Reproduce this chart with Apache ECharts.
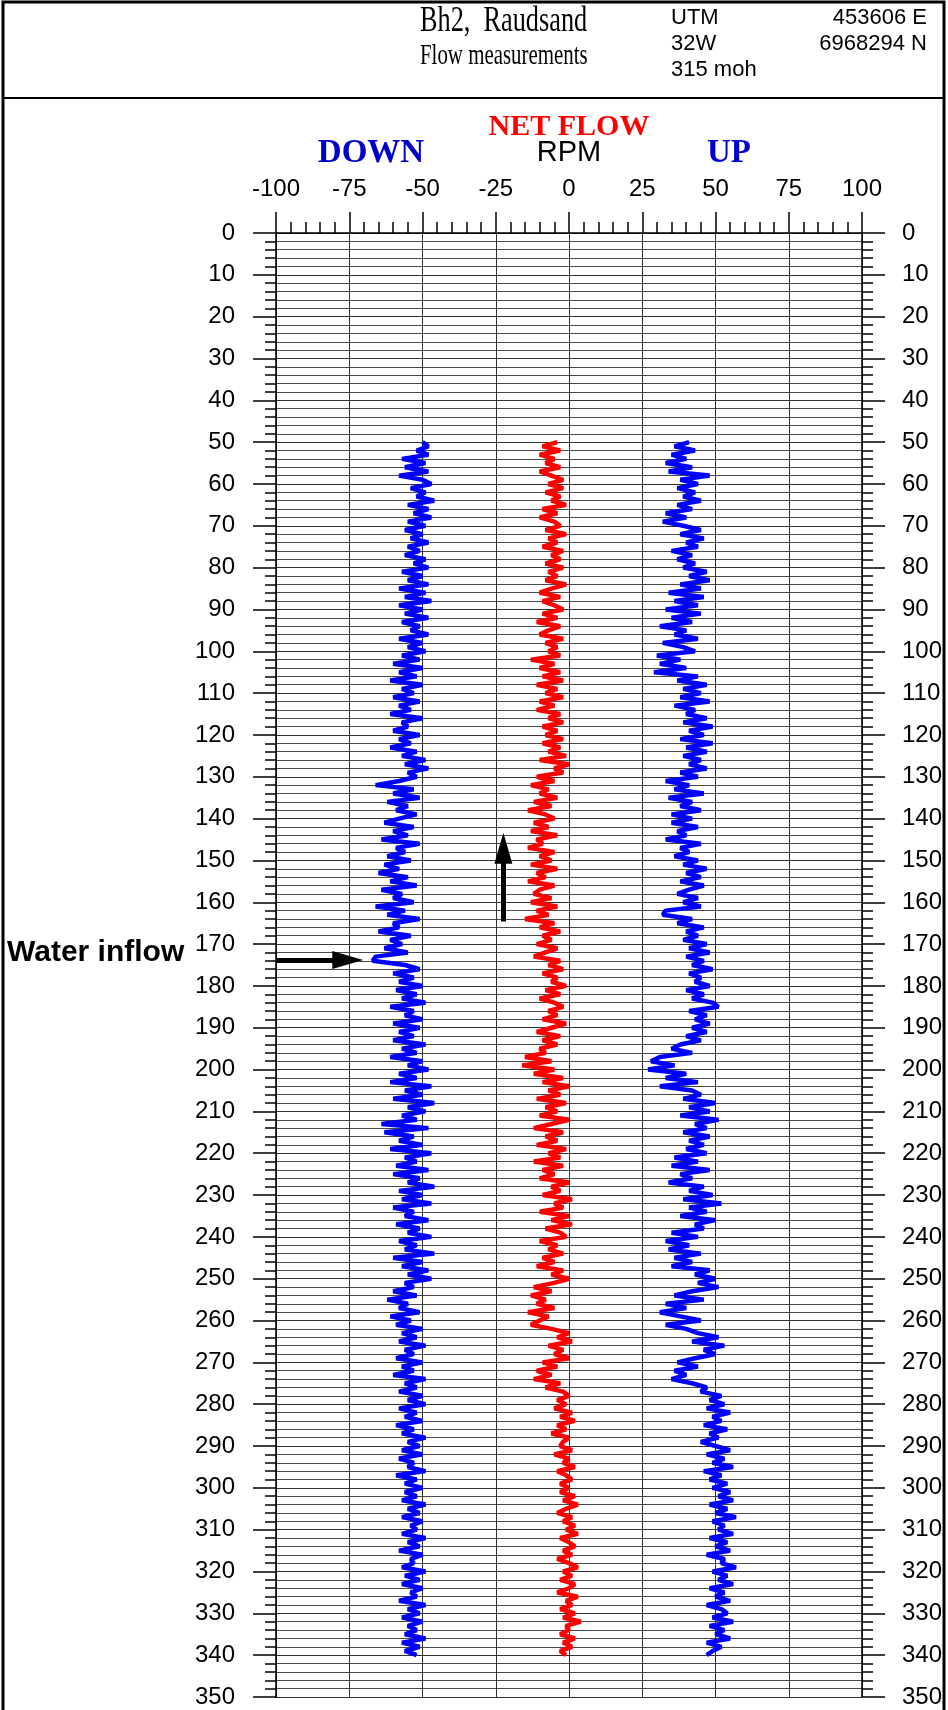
<!DOCTYPE html>
<html>
<head>
<meta charset="utf-8">
<script src="https://cdn.jsdelivr.net/npm/echarts@6/dist/echarts.min.js"></script>
<style>
html,body{margin:0;padding:0;background:#fff;}
#chart{width:948px;height:1710px;}
</style>
</head>
<body>
<div id="chart"></div>
<script>
// ---- data ----
const depthStart = 50;   // m, first sample
const depthStep = 1;     // m between samples

const down = [
 -50,-48,-52,-48,-57,-49,-56,-48,-58,-50,
 -47,-54,-49,-52,-46,-55,-48,-53,-47,-55,
 -49,-56,-50,-54,-48,-55,-51,-56,-49,-53,
 -48,-57,-50,-55,-48,-58,-49,-56,-47,-58,
 -50,-56,-48,-57,-51,-54,-48,-58,-50,-55,
 -49,-57,-51,-60,-50,-58,-52,-61,-50,-57,
 -53,-60,-51,-58,-54,-61,-50,-57,-55,-60,
 -51,-58,-54,-61,-52,-57,-49,-56,-48,-55,
 -52,-58,-66,-53,-60,-51,-62,-55,-59,-52,
 -58,-63,-53,-60,-55,-64,-51,-59,-56,-62,
 -54,-63,-58,-65,-55,-61,-52,-64,-57,-60,
 -53,-66,-56,-62,-51,-60,-58,-65,-54,-61,
 -57,-63,-55,-66,-67,-56,-51,-60,-53,-58,
 -50,-59,-52,-57,-49,-61,-53,-56,-50,-60,
 -51,-58,-53,-60,-49,-57,-52,-61,-50,-55,
 -48,-58,-52,-61,-47,-56,-50,-60,-46,-55,
 -49,-57,-52,-64,-48,-63,-53,-58,-50,-61,
 -47,-56,-52,-59,-48,-60,-51,-55,-46,-58,
 -50,-57,-47,-60,-53,-56,-48,-59,-51,-55,
 -47,-58,-52,-56,-46,-60,-50,-57,-48,-55,
 -47,-56,-53,-60,-52,-62,-55,-58,-51,-61,
 -54,-59,-50,-57,-52,-58,-49,-56,-53,-59,
 -50,-57,-53,-60,-49,-56,-52,-58,-50,-55,
 -49,-58,-52,-56,-50,-59,-53,-57,-49,-55,
 -51,-57,-50,-58,-53,-55,-49,-59,-52,-56,
 -50,-56,-52,-57,-49,-55,-51,-57,-50,-54,
 -52,-57,-49,-55,-51,-58,-50,-54,-53,-57,
 -49,-56,-51,-57,-50,-54,-52,-58,-49,-55,
 -51,-57,-50,-55,-52,-56,-49,-57,-51,-56,
 -52
];

const netFlow = [
 -4,-9,-3,-10,-5,-8,-3,-10,-6,-2,
 -7,-2,-8,-3,-6,-1,-9,-4,-10,-5,
 -3,-8,-1,-7,-4,-9,-2,-6,-3,-8,
 -2,-7,-4,-8,-1,-6,-10,-3,-9,-5,
 -2,-9,-4,-11,-3,-7,-10,-2,-8,-4,
 -7,-3,-13,-5,-10,-3,-9,-2,-11,-4,
 -8,-2,-10,-5,-11,-3,-7,-2,-9,-4,
 -8,-2,-9,-3,-7,-1,-10,0,-5,-2,
 -11,-5,-13,-7,-10,-4,-12,-6,-14,-8,
 -5,-12,-7,-13,-4,-11,-9,-14,-5,-10,
 -6,-13,-4,-11,-8,-14,-5,-10,-12,-6,
 -13,-4,-11,-7,-15,-5,-10,-3,-9,-6,
 -11,-4,-8,-12,-3,-7,-2,-9,-4,-6,
 -1,-8,-3,-10,-5,-2,-7,-4,-9,-1,
 -6,-11,-3,-9,-4,-10,-8,-15,-6,-16,
 -5,-12,-2,-9,0,-7,-3,-11,-1,-8,
 -4,-10,0,-6,-12,-2,-8,-4,-11,-1,
 -7,-3,-12,-2,-9,-5,-10,0,-6,-3,
 -9,1,-5,-2,-10,0,-6,1,-8,-3,
 -1,-10,-4,-7,-2,-9,-5,-11,-2,-6,
 0,-5,-12,-6,-13,-8,-11,-5,-14,-7,
 -10,-13,-6,0,-4,1,-7,-2,-5,0,
 -9,-4,-11,-6,-12,-3,-8,-2,0,-4,
 -1,-5,1,-3,2,-4,-1,-6,0,-2,
 -3,1,-5,0,-2,2,-4,-1,1,-3,
 0,-3,2,-2,3,-1,-4,1,-2,2,
 -1,3,-3,0,2,-2,1,-4,0,3,
 -2,1,-3,2,0,-4,3,-1,1,-3,
 2,-2,4,-1,0,-3,2,-2,1,-3,
 -1
];

const up = [
 41,36,43,35,40,33,42,34,48,38,
 44,37,43,39,45,37,42,33,40,32,
 39,45,38,46,40,44,35,42,37,43,
 39,47,41,48,38,45,34,46,36,44,
 33,45,35,42,31,40,36,44,32,39,
 43,30,38,31,40,29,44,37,47,39,
 45,38,48,36,43,40,47,39,49,41,
 46,38,49,40,47,39,45,41,47,38,
 44,33,41,36,46,34,42,38,45,35,
 42,35,44,37,40,33,45,38,41,36,
 44,39,47,40,45,38,46,41,37,44,
 39,45,33,32,42,37,46,40,44,39,
 47,41,48,40,46,42,49,41,45,43,
 48,40,46,42,49,51,41,47,43,48,
 42,47,40,45,38,35,42,31,28,36,
 27,40,33,44,31,42,45,39,50,41,
 48,38,51,43,47,39,48,41,46,40,
 47,36,44,35,48,38,42,34,46,41,
 49,39,52,41,47,38,50,43,46,35,
 44,33,41,34,45,36,42,35,48,43,
 50,44,51,42,36,46,33,40,31,38,
 45,33,40,44,51,42,53,46,50,43,
 37,44,36,40,35,42,47,45,52,48,
 53,47,55,49,52,46,54,48,51,45,
 50,55,47,53,49,56,46,52,48,54,
 49,55,51,56,48,54,50,57,49,53,
 51,56,48,54,50,55,47,53,52,57,
 49,54,51,56,48,53,50,55,47,52,
 54,49,56,48,53,50,55,47,52,49,
 47
];

// axis
const xMin = -100, xMax = 100, xInterval = 25;
const depthMin = 0, depthMax = 350, depthInterval = 10;
// annotations (data coordinates)
const inflowArrow = { fromX: -100, toX: -75.5, depth: 173.8 };
const upArrow = { x: -22.4, fromDepth: 164.6, toDepth: 147.1 };

function pairs(vals) {
  return vals.map((v, i) => [v, depthStart + i * depthStep]);
}

const ARIAL = '"Liberation Sans", Arial, sans-serif';
const SERIF = '"Liberation Serif", "Times New Roman", serif';
const LBL = 24;

const chart = echarts.init(document.getElementById('chart'), null, { renderer: 'canvas' });

const yAxisCommon = {
  type: 'value', inverse: true, min: depthMin, max: depthMax, interval: depthInterval,
  axisLine: { show: true, onZero: false, lineStyle: { color: '#000', width: 1.5 } },
  axisTick: { show: true, inside: false, length: 23, lineStyle: { color: '#000', width: 1.5 } },
  minorTick: { show: true, splitNumber: 5, length: 11, lineStyle: { color: '#000', width: 1.5 } },
  axisLabel: { fontSize: LBL, fontFamily: ARIAL, color: '#000' }
};

const lineW = 4.5;

const option = {
  animation: false,
  backgroundColor: '#fff',
  grid: { left: 276, right: 86, top: 233, bottom: 13, containLabel: false, outerBoundsMode: 'none' },
  xAxis: [{
    type: 'value', position: 'top', min: xMin, max: xMax, interval: xInterval,
    axisLine: { show: true, onZero: false, lineStyle: { color: '#000', width: 1.5 } },
    axisTick: { show: true, inside: false, length: 21, lineStyle: { color: '#000', width: 1.5 } },
    minorTick: { show: true, splitNumber: 5, length: 11, lineStyle: { color: '#000', width: 1.5 } },
    axisLabel: { margin: 32, fontSize: LBL, fontFamily: ARIAL, color: '#000', showMinLabel: true, showMaxLabel: true },
    splitLine: { show: true, lineStyle: { color: '#333', width: 1 } }
  }],
  yAxis: [
    Object.assign({}, yAxisCommon, {
      position: 'left',
      axisLabel: Object.assign({}, yAxisCommon.axisLabel, { margin: 41 }),
      splitLine: { show: true, lineStyle: { color: '#333', width: 1 } },
      minorSplitLine: { show: true, lineStyle: { color: '#4a4a4a', width: 1 } }
    }),
    Object.assign({}, yAxisCommon, {
      position: 'right',
      axisLabel: Object.assign({}, yAxisCommon.axisLabel, { margin: 40 }),
      splitLine: { show: false }
    })
  ],
  series: [
    {
      name: 'DOWN', type: 'line', data: pairs(down), showSymbol: false, symbol: 'none',
      lineStyle: { color: '#0000ff', width: lineW }, itemStyle: { color: '#0000ff' }, z: 5
    },
    {
      name: 'NET FLOW', type: 'line', data: pairs(netFlow), showSymbol: false, symbol: 'none',
      lineStyle: { color: '#ff0000', width: lineW }, itemStyle: { color: '#ff0000' }, z: 5,
      markLine: {
        silent: true, animation: false,
        symbol: ['none', 'triangle'], symbolSize: [18, 31],
        label: { show: false },
        lineStyle: { type: 'solid', color: '#000', width: 5 },
        itemStyle: { color: '#000' },
        emphasis: { disabled: true },
        data: [
          [{ coord: [inflowArrow.fromX, inflowArrow.depth] }, { coord: [inflowArrow.toX, inflowArrow.depth] }],
          [{ coord: [upArrow.x, upArrow.fromDepth] }, { coord: [upArrow.x, upArrow.toDepth] }]
        ]
      }
    },
    {
      name: 'UP', type: 'line', data: pairs(up), showSymbol: false, symbol: 'none',
      lineStyle: { color: '#0000ff', width: lineW }, itemStyle: { color: '#0000ff' }, z: 5
    }
  ],
  graphic: [
    { type: 'rect', silent: true, shape: { x: 3, y: 2, width: 941, height: 1730 }, style: { fill: 'none', stroke: '#000', lineWidth: 3 } },
    { type: 'line', silent: true, shape: { x1: 3, y1: 98, x2: 944, y2: 98 }, style: { stroke: '#000', lineWidth: 2 } },
    { type: 'text', x: 420, y: 22, scaleX: 0.73, style: { text: 'Bh2,  Raudsand', font: '36px ' + SERIF, fill: '#000', align: 'left', verticalAlign: 'middle', textAlign: 'left', textVerticalAlign: 'middle' } },
    { type: 'text', x: 420, y: 56, scaleX: 0.72, style: { text: 'Flow measurements', font: '29px ' + SERIF, fill: '#000', align: 'left', verticalAlign: 'middle', textAlign: 'left', textVerticalAlign: 'middle' } },
    { type: 'text', x: 671, y: 18, style: { text: 'UTM', font: '22px ' + ARIAL, fill: '#000', align: 'left', verticalAlign: 'middle', textAlign: 'left', textVerticalAlign: 'middle' } },
    { type: 'text', x: 927, y: 18, style: { text: '453606 E', font: '22px ' + ARIAL, fill: '#000', align: 'right', verticalAlign: 'middle', textAlign: 'right', textVerticalAlign: 'middle' } },
    { type: 'text', x: 671, y: 44, style: { text: '32W', font: '22px ' + ARIAL, fill: '#000', align: 'left', verticalAlign: 'middle', textAlign: 'left', textVerticalAlign: 'middle' } },
    { type: 'text', x: 927, y: 44, style: { text: '6968294 N', font: '22px ' + ARIAL, fill: '#000', align: 'right', verticalAlign: 'middle', textAlign: 'right', textVerticalAlign: 'middle' } },
    { type: 'text', x: 671, y: 70, style: { text: '315 moh', font: '22px ' + ARIAL, fill: '#000', align: 'left', verticalAlign: 'middle', textAlign: 'left', textVerticalAlign: 'middle' } },
    { type: 'text', x: 569, y: 127, style: { text: 'NET FLOW', font: 'bold 30px ' + SERIF, fill: '#ff0000', align: 'center', verticalAlign: 'middle', textAlign: 'center', textVerticalAlign: 'middle' } },
    { type: 'text', x: 371, y: 153, style: { text: 'DOWN', font: 'bold 33px ' + SERIF, fill: '#0000cc', align: 'center', verticalAlign: 'middle', textAlign: 'center', textVerticalAlign: 'middle' } },
    { type: 'text', x: 569, y: 153, style: { text: 'RPM', font: '29px ' + ARIAL, fill: '#000', align: 'center', verticalAlign: 'middle', textAlign: 'center', textVerticalAlign: 'middle' } },
    { type: 'text', x: 729, y: 153, style: { text: 'UP', font: 'bold 33px ' + SERIF, fill: '#0000cc', align: 'center', verticalAlign: 'middle', textAlign: 'center', textVerticalAlign: 'middle' } },
    { type: 'text', x: 7, y: 953, style: { text: 'Water inflow', font: 'bold 30px ' + ARIAL, fill: '#000', align: 'left', verticalAlign: 'middle', textAlign: 'left', textVerticalAlign: 'middle' } }
  ]
};

chart.setOption(option);
</script>
</body>
</html>
